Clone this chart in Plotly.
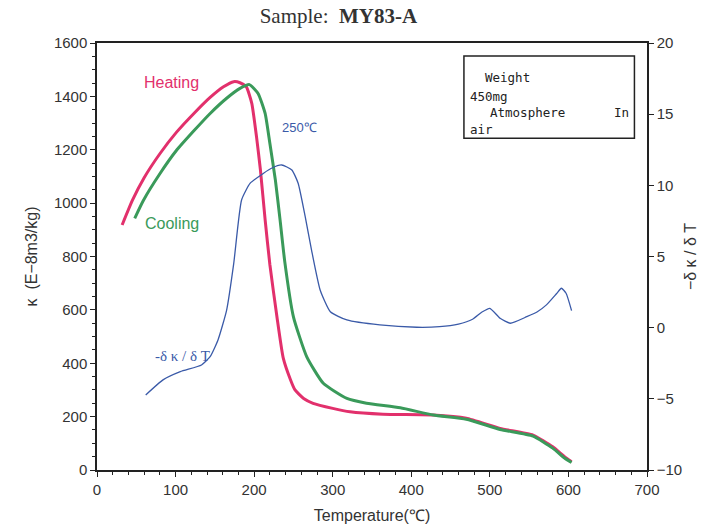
import plotly.graph_objects as go

# Heating curve (kappa, E-8 m3/kg)
heat_T = [32, 45, 60, 80, 101, 123, 144, 161, 174, 182, 190, 197, 203, 208, 214, 220, 229, 237, 246, 252, 263, 275, 300, 322, 364, 428, 470, 513, 555, 580, 595, 604]
heat_k = [918, 1010, 1095, 1185, 1265, 1335, 1396, 1436, 1455, 1451, 1436, 1374, 1249, 1124, 937, 770, 574, 420, 340, 300, 268, 250, 231, 218, 209, 206, 194, 156, 131, 87, 50, 31]

# Cooling curve
cool_T = [48, 59, 80, 101, 123, 144, 165, 182, 194, 205, 214, 220, 227, 233, 239, 250, 267, 288, 318, 343, 386, 428, 470, 513, 555, 580, 595, 604]
cool_k = [943, 1010, 1110, 1197, 1270, 1336, 1393, 1430, 1444, 1411, 1336, 1224, 1087, 937, 780, 574, 424, 325, 268, 250, 233, 206, 190, 152, 127, 82, 45, 28]

# Derivative curve -dk/dT (right axis)
der_T = [62, 84, 106, 133, 144, 154, 165, 174, 184, 195, 212, 222, 235, 248, 256, 265, 273, 284, 297, 318, 360, 407, 436, 460, 478, 490, 500, 513, 526, 547, 560, 572, 585, 591, 597, 604]
der_v = [-4.73, -3.67, -3.09, -2.62, -2.04, -0.86, 1.24, 4.5, 8.97, 10.15, 10.85, 11.2, 11.43, 11.08, 10.15, 7.8, 5.46, 2.65, 1.12, 0.54, 0.19, 0.03, 0.07, 0.25, 0.59, 1.1, 1.36, 0.66, 0.31, 0.77, 1.1, 1.6, 2.4, 2.77, 2.42, 1.2]

x_ticks = [0, 100, 200, 300, 400, 500, 600, 700]
y_ticks = [0, 200, 400, 600, 800, 1000, 1200, 1400, 1600]
y2_ticks = [-10, -5, 0, 5, 10, 15, 20]

RED = "#e2306c"
GREEN = "#3a9a5a"
BLUE = "#3a5aa8"
FONT = "Liberation Sans, Arial"
MONO = "DejaVu Sans Mono, Liberation Mono"

fig = go.Figure()
fig.add_trace(go.Scatter(x=heat_T, y=heat_k, mode="lines", line=dict(color=RED, width=3, shape="spline", smoothing=0.5), showlegend=False))
fig.add_trace(go.Scatter(x=cool_T, y=cool_k, mode="lines", line=dict(color=GREEN, width=3, shape="spline", smoothing=0.5), showlegend=False))
fig.add_trace(go.Scatter(x=der_T, y=der_v, mode="lines", yaxis="y2", line=dict(color=BLUE, width=1.3, shape="spline", smoothing=0.5), showlegend=False))

axis_common = dict(showline=True, linecolor="#222", linewidth=1.5, ticks="outside", tickcolor="#222",
                   ticklen=5, showgrid=False, zeroline=False, automargin=False,
                   tickfont=dict(family=FONT, size=15, color="#333"))

box_lines = [("Weight", 491, 1469), ("450mg", 472, 1399), ("Atmosphere", 497, 1341), ("In", 655, 1341), ("air", 472, 1277)]

annotations = [
    dict(x=95, y=1453, xref="x", yref="y", text="Heating", showarrow=False,
         font=dict(family=FONT, size=16, color=RED)),
    dict(x=95, y=925, xref="x", yref="y", text="Cooling", showarrow=False,
         font=dict(family=FONT, size=16, color=GREEN)),
    dict(x=258, y=1285, xref="x", yref="y", text="250℃", showarrow=False,
         font=dict(family=FONT, size=13, color=BLUE)),
    dict(x=109, y=427, xref="x", yref="y", text="-δ κ / δ T", showarrow=False,
         font=dict(family="Liberation Serif, DejaVu Serif", size=15, color=BLUE)),
]
for txt, tx, ky in box_lines:
    annotations.append(dict(x=tx, y=ky, xref="x", yref="y", text=txt, xanchor="left", yanchor="middle",
                            showarrow=False, font=dict(family=MONO, size=12.5, color="#222")))

fig.update_layout(
    width=705, height=524,
    margin=dict(l=97, r=58, t=43, b=54),
    paper_bgcolor="white", plot_bgcolor="white",
    title=dict(text="Sample:  <b>MY83-A</b>", x=0.48, xanchor="center", y=0.985, yanchor="top",
               font=dict(family="Liberation Serif, DejaVu Serif", size=21, color="#333")),
    xaxis=dict(range=[0, 700], tickvals=x_ticks, mirror=True,
               minor=dict(dtick=20, ticks="outside", ticklen=3, tickcolor="#222"),
               title=dict(text="Temperature(℃)", font=dict(family=FONT, size=16, color="#333"), standoff=13),
               **axis_common),
    yaxis=dict(range=[0, 1600], tickvals=y_ticks,
               minor=dict(dtick=50, ticks="outside", ticklen=3, tickcolor="#222"),
               title=dict(text="κ  (E−8m3/kg)", font=dict(family=FONT, size=16, color="#333"), standoff=12),
               **axis_common),
    yaxis2=dict(range=[-10, 20], tickvals=y2_ticks, overlaying="y", side="right",
                title=dict(text="−δ κ / δ T", font=dict(family=FONT, size=16, color="#333"), standoff=4),
                **axis_common),
    annotations=annotations,
    shapes=[dict(type="rect", xref="x", yref="y", x0=467, x1=684, y0=1243, y1=1551,
                 line=dict(color="#222", width=1.5))],
)

fig.write_html("out.html")
